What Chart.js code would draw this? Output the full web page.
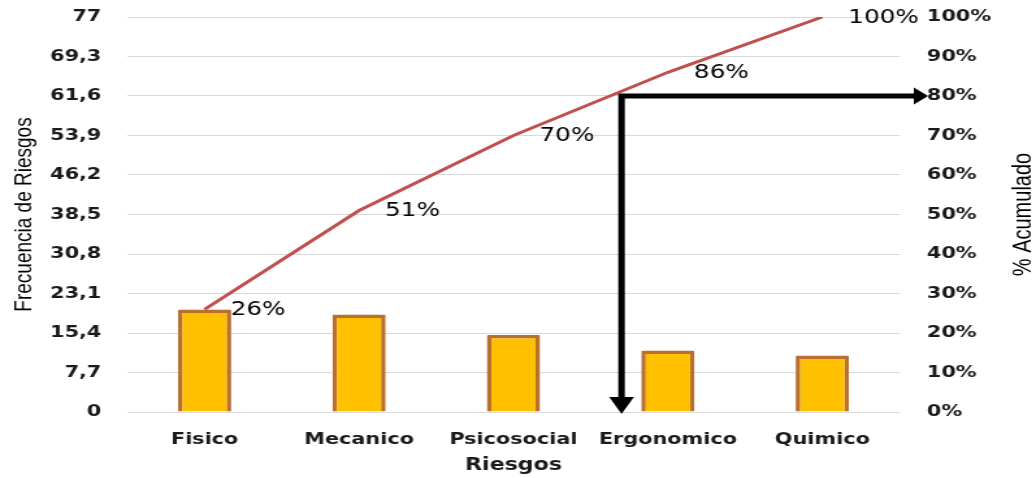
<!DOCTYPE html>
<html>
<head>
<meta charset="utf-8">
<script src="https://cdn.jsdelivr.net/npm/chart.js@4.4.1/dist/chart.umd.min.js"></script>
<style>
  html, body { margin: 0; padding: 0; background: #fff; }
  /* the reference picture is stretched sideways, so the canvas is too */
  #chart { width: 1036px; height: 478px; }
</style>
</head>
<body>
<canvas id="chart" width="797" height="478" style="width:1036px;height:478px"></canvas>
<script>
"use strict";

// datos
var riesgos = ['Fisico', 'Mecanico', 'Psicosocial', 'Ergonomico', 'Quimico'];
var frecuencia = [20, 19, 15, 12, 11];
var acumulado = [26, 51, 70, 86, 100];
var freqTicks = [0, 7.7, 15.4, 23.1, 30.8, 38.5, 46.2, 53.9, 61.6, 69.3, 77];
var pctTicks = [0, 10, 20, 30, 40, 50, 60, 70, 80, 90, 100];
// punto donde arranca la flecha del 80%
var flechaX = 2.7;
var flechaPct = 80;

var tickColor = '#1a1a1a';

// etiquetas, flechas y titulo derecho
var extras = {
	id: 'extras',
	afterDraw: function (chart) {
		var ctx = chart.ctx;
		var area = chart.chartArea;
		var meta = chart.getDatasetMeta(1);
		ctx.save();

		// % labels on the line
		ctx.font = '19px "DejaVu Sans"';
		ctx.fillStyle = '#000';
		ctx.textBaseline = 'middle';
		ctx.textAlign = 'left';
		meta.data.forEach(function (pt, i) {
			ctx.fillText(acumulado[i] + '%', pt.x + 20, pt.y + 1);
		});

		// flechas
		var ax = chart.scales.x.getPixelForValue(flechaX);
		var ay = chart.scales.y1.getPixelForValue(flechaPct);
		var tipX = area.right + 22;
		var tipY = chart.scales.y.getPixelForValue(0) + 2;
		ctx.strokeStyle = '#000';
		ctx.fillStyle = '#000';
		ctx.lineWidth = 5;
		ctx.lineJoin = 'miter';
		ctx.beginPath();
		ctx.moveTo(tipX - 10, ay);
		ctx.lineTo(ax, ay);
		ctx.lineTo(ax, tipY - 15);
		ctx.stroke();
		ctx.beginPath();
		ctx.moveTo(tipX, ay);
		ctx.lineTo(tipX - 11, ay - 8.5);
		ctx.lineTo(tipX - 11, ay + 8.5);
		ctx.closePath();
		ctx.fill();
		ctx.beginPath();
		ctx.moveTo(ax, tipY);
		ctx.lineTo(ax - 9.5, tipY - 17);
		ctx.lineTo(ax + 9.5, tipY - 17);
		ctx.closePath();
		ctx.fill();

		// titulo eje derecho
		ctx.font = '20px "Liberation Sans"';
		ctx.textAlign = 'center';
		ctx.translate(chart.scales.y1.right - 10, (area.top + area.bottom) / 2);
		ctx.rotate(-Math.PI / 2);
		ctx.fillText('% Acumulado', 0, 0);
		ctx.restore();
	}
};

function noPad(s) {
	s.paddingTop = 0;
	s.paddingBottom = 0;
}

var myChart = new Chart(document.getElementById('chart'), {
	type: 'bar',
	data: {
		labels: riesgos,
		datasets: [{
			type: 'bar',
			data: frecuencia,
			yAxisID: 'y',
			order: 1,
			backgroundColor: '#FFC000',
			borderColor: '#B8702F',
			borderWidth: 3.5,
			borderRadius: 1,
			categoryPercentage: 1,
			barPercentage: 0.345
		}, {
			type: 'line',
			data: acumulado,
			yAxisID: 'y1',
			order: 0,
			borderColor: '#C0504D',
			borderWidth: 3,
			pointRadius: 0,
			tension: 0,
			fill: false
		}]
	},
	options: {
		responsive: false,
		animation: false,
		devicePixelRatio: 1,
		layout: { padding: { top: 17, left: 0, right: 0, bottom: 0 } },
		plugins: {
			legend: { display: false },
			tooltip: { enabled: false }
		},
		scales: {
			x: {
				grid: { display: false },
				border: { display: false },
				ticks: {
					color: tickColor,
					padding: 10,
					font: { family: 'DejaVu Sans', size: 16, weight: 'bold' }
				},
				title: {
					display: true,
					text: 'Riesgos',
					color: tickColor,
					padding: { top: 0, bottom: 2 },
					font: { family: 'DejaVu Sans', size: 17, weight: 'bold' }
				},
				afterFit: function (s) { s.height = 66; }
			},
			y: {
				position: 'left',
				min: 0,
				max: 77,
				afterBuildTicks: function (s) {
					s.ticks = freqTicks.map(function (v) { return { value: v }; });
				},
				grid: { color: '#d9d9d9', lineWidth: 1, drawTicks: false },
				border: { display: false },
				ticks: {
					color: tickColor,
					padding: 20,
					autoSkip: false,
					font: { family: 'DejaVu Sans', size: 16, weight: 'bold' },
					callback: function (v) { return String(v).replace('.', ','); }
				},
				title: {
					display: true,
					text: 'Frecuencia de Riesgos',
					color: '#000',
					padding: { top: 7, bottom: 0 },
					font: { family: 'Liberation Sans', size: 19 }
				},
				afterFit: function (s) { s.width = 98; noPad(s); }
			},
			y1: {
				position: 'right',
				min: 0,
				max: 100,
				afterBuildTicks: function (s) {
					s.ticks = pctTicks.map(function (v) { return { value: v }; });
				},
				grid: { display: false, drawTicks: false },
				border: { display: false },
				ticks: {
					color: tickColor,
					padding: 21,
					autoSkip: false,
					font: { family: 'DejaVu Sans', size: 16, weight: 'bold' },
					callback: function (v) { return v + '%'; }
				},
				afterFit: function (s) { s.width = 105; noPad(s); }
			}
		}
	},
	plugins: [extras]
});
</script>
</body>
</html>
